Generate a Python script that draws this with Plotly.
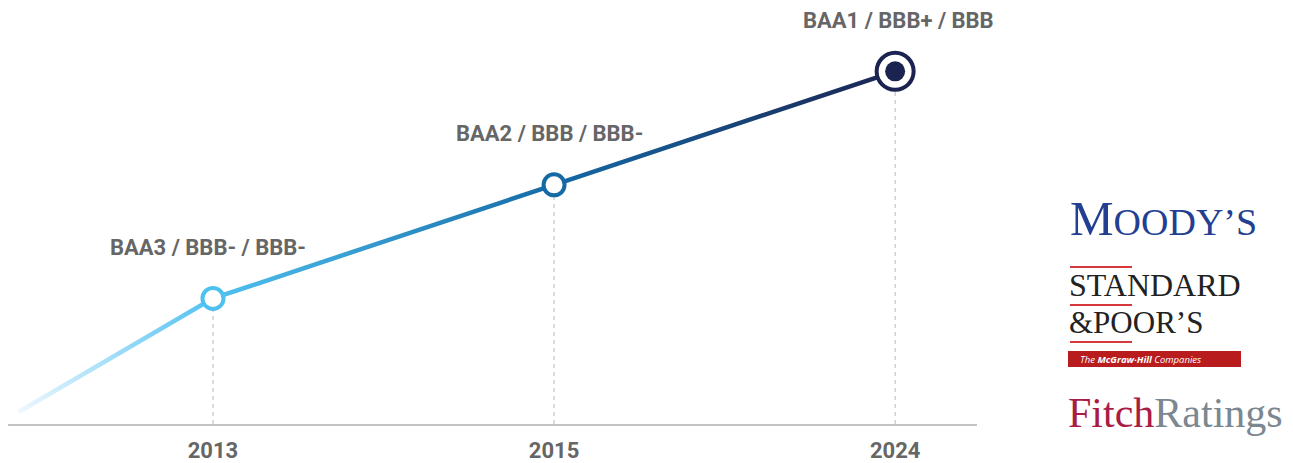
import plotly.graph_objects as go

# ---- data ----
years = ["2013", "2015", "2024"]
ratings = ["BAA3 / BBB- / BBB-", "BAA2 / BBB / BBB-", "BAA1 / BBB+ / BBB"]
rating_level = [1, 2, 3]          # notch steps up from the starting level
start_x = -0.57                   # faded lead-in point before 2013
start_level = 0
point_colors = ["#4fc1f0", "#156aa6", "#1b2451"]

# ---- layout constants ----
# the page body adds an 8px offset, so the figure is 8px smaller than the window
OFF = 8
W, H = 1293 - OFF, 463 - OFF
ML, MR, MT, MB = 0, 0, 2, 39
PW, PH = W - ML - MR, H - MT - MB
AX_RIGHT = 977   # page pixel
LABEL_DX = [-5, -5, 3]   # small horizontal nudges of the rating labels

def px_x(p):     # page pixel -> paper x
    return (p - OFF - ML) / PW

def px_y(p):     # page pixel -> paper y
    return (H - MB - (p - OFF)) / PH

xs = list(range(len(years)))
line_x = [start_x] + xs
line_y = [start_level] + rating_level
Y0 = -0.106

fig = go.Figure()

# dashed drop lines
for x, v in zip(xs, rating_level):
    fig.add_trace(go.Scatter(x=[x, x], y=[Y0, v], mode="lines",
                             line=dict(color="#c8c8c8", width=1.3, dash="4px,4px"),
                             hoverinfo="skip", showlegend=False))

# main line (gradient applied in post script)
fig.add_trace(go.Scatter(x=line_x, y=line_y, mode="lines",
                         line=dict(color="#3a9fd6", width=4.5),
                         hoverinfo="skip", showlegend=False, name="ratingline"))

# hollow markers for the first points
fig.add_trace(go.Scatter(x=xs[:2], y=rating_level[:2], mode="markers",
                         marker=dict(size=21, color="white",
                                     line=dict(color=point_colors[:2], width=4)),
                         hoverinfo="skip", showlegend=False))
# final point: ring + dot
fig.add_trace(go.Scatter(x=xs[2:], y=rating_level[2:], mode="markers",
                         marker=dict(size=37, color="white",
                                     line=dict(color=point_colors[2], width=4)),
                         hoverinfo="skip", showlegend=False))
fig.add_trace(go.Scatter(x=xs[2:], y=rating_level[2:], mode="markers",
                         marker=dict(size=20, color=point_colors[2]),
                         hoverinfo="skip", showlegend=False))

annotations = []
for x, v, t, dx in zip(xs, rating_level, ratings, LABEL_DX):
    annotations.append(dict(x=x, y=v, xref="x", yref="y", text=t, showarrow=False,
                            yshift=51, xshift=dx, xanchor="center", yanchor="middle",
                            borderpad=0,
                            font=dict(family="Roboto", size=22, color="#666666", weight="bold")))

# ---- agency logos (text) ----
annotations.append(dict(xref="paper", yref="paper", x=px_x(1068), y=px_y(218),
                        xanchor="left", yanchor="middle", showarrow=False,
                        text='<span style="font-size:49px">M</span>OODY’S',
                        font=dict(family="Liberation Serif", size=38, color="#233f91")))
annotations.append(dict(xref="paper", yref="paper", x=px_x(1067), y=px_y(285),
                        xanchor="left", yanchor="middle", showarrow=False,
                        text="STANDARD",
                        font=dict(family="Liberation Serif", size=32, color="#222222")))
annotations.append(dict(xref="paper", yref="paper", x=px_x(1067), y=px_y(322),
                        xanchor="left", yanchor="middle", showarrow=False,
                        text="&amp;POOR’S",
                        font=dict(family="Liberation Serif", size=31, color="#222222")))
annotations.append(dict(xref="paper", yref="paper", x=px_x(1078), y=px_y(359),
                        xanchor="left", yanchor="middle", showarrow=False,
                        text="<i>The <b>McGraw·Hill</b> Companies</i>",
                        font=dict(family="Open Sans", size=9.5, color="white")))
annotations.append(dict(xref="paper", yref="paper", x=px_x(1066), y=px_y(413),
                        xanchor="left", yanchor="middle", showarrow=False,
                        text='<span style="fill:#a81c46">Fitch</span>Ratings',
                        font=dict(family="Liberation Serif", size=42, color="#7b8791")))

shapes = []
for yy in (267, 305, 342):
    shapes.append(dict(type="line", xref="paper", yref="paper",
                       x0=px_x(1070), x1=px_x(1132), y0=px_y(yy), y1=px_y(yy),
                       line=dict(color="#d6383c", width=2)))
shapes.append(dict(type="rect", xref="paper", yref="paper",
                   x0=px_x(1068), x1=px_x(1241), y0=px_y(367), y1=px_y(351),
                   fillcolor="#b81c1c", line=dict(width=0)))

fig.update_layout(
    width=W, height=H,
    margin=dict(l=ML, r=MR, t=MT, b=MB),
    paper_bgcolor="white", plot_bgcolor="white",
    showlegend=False, hovermode=False,
    annotations=annotations, shapes=shapes,
    xaxis=dict(domain=[0, px_x(AX_RIGHT)], range=[-0.601, 2.240],
               tickvals=xs, ticktext=years, showgrid=False, zeroline=False,
               showline=True, linecolor="#c4c4c4", linewidth=2, ticks="",
               ticklabelstandoff=6,
               tickfont=dict(family="Roboto", size=22, color="#666666", weight="bold")),
    yaxis=dict(range=[Y0, 3.54], visible=False, showgrid=False, zeroline=False),
)

# gradient stops derived from the data positions
x_span = line_x[-1] - line_x[0]
stops = [(0.0, "#eef8fe")] + [((x - line_x[0]) / x_span, c) for x, c in zip(xs, point_colors)]
stops_js = ",".join('[%.4f,"%s"]' % (o, c) for o, c in stops)

post = """
var gd = document.getElementById('{plot_id}');
var svg = gd.querySelector('svg.main-svg');
var ns = 'http://www.w3.org/2000/svg';
var defs = svg.querySelector('defs') || svg.insertBefore(document.createElementNS(ns,'defs'), svg.firstChild);
var lg = document.createElementNS(ns, 'linearGradient');
lg.setAttribute('id', 'ratingGrad');
lg.setAttribute('x1', '0'); lg.setAttribute('y1', '0');
lg.setAttribute('x2', '1'); lg.setAttribute('y2', '0');
var stops = [STOPS];
stops.forEach(function(s){
  var st = document.createElementNS(ns, 'stop');
  st.setAttribute('offset', s[0]);
  st.setAttribute('stop-color', s[1]);
  lg.appendChild(st);
});
defs.appendChild(lg);
var traces = gd.querySelectorAll('.scatterlayer .trace');
var path = traces[3].querySelector('path.js-line');
if (path) { path.style.setProperty('stroke', 'url(#ratingGrad)'); }
""".replace("STOPS", stops_js)

fig.write_html("out.html", post_script=post)
